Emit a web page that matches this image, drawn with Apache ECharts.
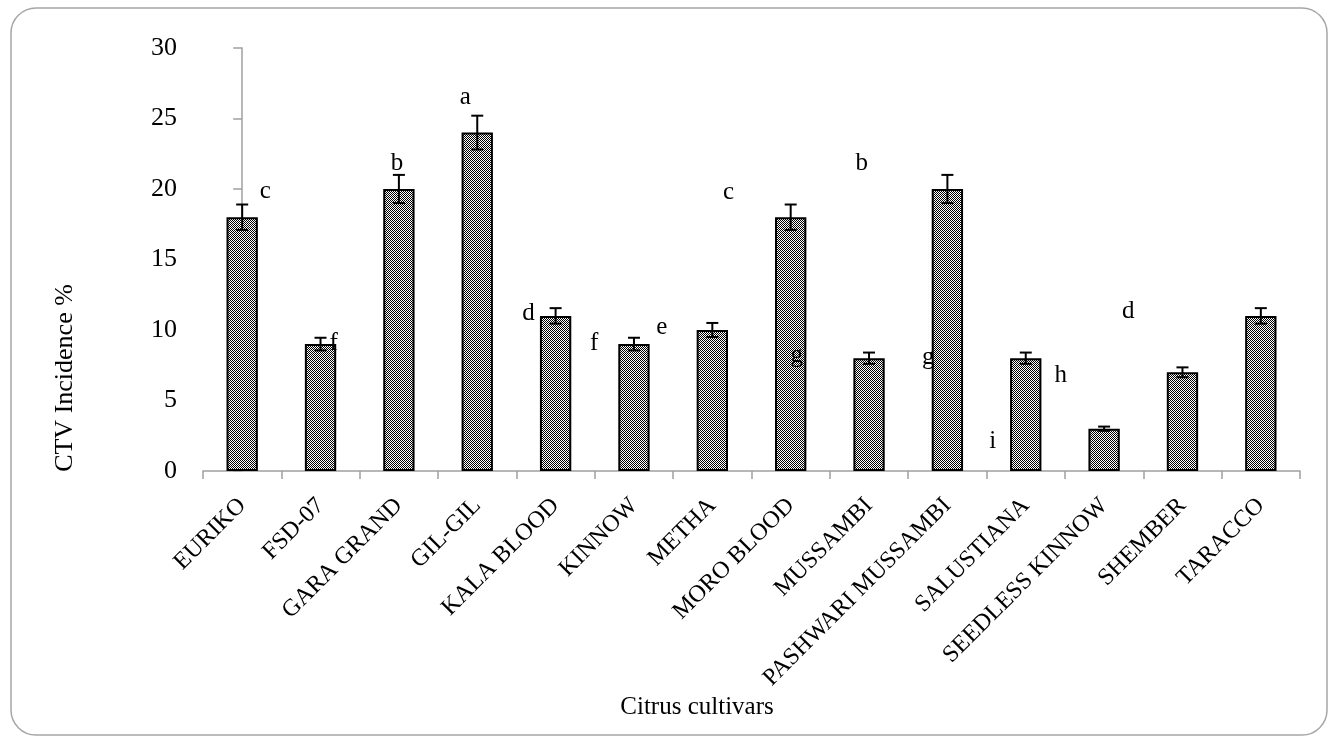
<!DOCTYPE html>
<html>
<head>
<meta charset="utf-8">
<script src="https://cdn.jsdelivr.net/npm/echarts@6/dist/echarts.min.js"></script>
<style>
html,body{margin:0;padding:0;background:#fff;}
#chart{width:1330px;height:738px;}
</style>
</head>
<body>
<div id="chart"></div>
<script>
// ---- data ----
const categories = ['EURIKO','FSD-07','GARA GRAND','GIL-GIL','KALA BLOOD','KINNOW','METHA','MORO BLOOD','MUSSAMBI','PASHWARI MUSSAMBI','SALUSTIANA','SEEDLESS KINNOW','SHEMBER','TARACCO'];
const incidence = [18, 9, 20, 24, 11, 9, 10, 18, 8, 20, 8, 3, 7, 11];
const errorBars = [0.9, 0.45, 1.0, 1.2, 0.55, 0.45, 0.5, 0.9, 0.4, 1.0, 0.4, 0.15, 0.35, 0.55];
const letters = ['c','f','b','a','d','f','e','c','g','b','g','i','h','d'];
const letterX = [0.295, 1.166, 1.975, 2.847, 3.654, 4.492, 5.356, 6.206, 7.078, 7.908, 8.757, 9.579, 10.447, 11.309];
const letterY = [19.85, 9.06, 21.84, 26.52, 11.18, 9.06, 10.15, 19.73, 8.23, 21.84, 8.02, 2.08, 6.81, 11.31];
const yTicks = [0, 5, 10, 15, 20, 25, 30];

// ---- checker pattern ----
const pc = document.createElement('canvas');
pc.width = 2; pc.height = 2;
const pctx = pc.getContext('2d');
pctx.fillStyle = '#fff'; pctx.fillRect(0,0,2,2);
pctx.fillStyle = '#000'; pctx.fillRect(0,0,1,1); pctx.fillRect(1,1,1,1);

const FONT = 'Liberation Serif';
const chart = echarts.init(document.getElementById('chart'), null, {renderer:'canvas'});

const option = {
  animation: false,
  backgroundColor: '#fff',
  grid: {left: 203, right: 30, top: 48, bottom: 267, containLabel: false},
  xAxis: [{
    type: 'category',
    data: categories,
    axisLine: {lineStyle: {color: '#a0a0a0', width: 1.5}},
    axisTick: {show: true, length: 8, lineStyle: {color: '#a0a0a0', width: 1.5}},
    axisLabel: {rotate: 45, margin: 31, color: '#000', fontFamily: FONT, fontSize: 24, interval: 0},
    splitLine: {show: false}
  }, {
    type: 'value', min: -0.5, max: 13.5, show: false
  }],
  yAxis: {
    type: 'value', min: 0, max: 30, interval: 5,
    axisLine: {show: true, lineStyle: {color: '#a0a0a0', width: 1.5}},
    axisTick: {show: true, length: 9, lineStyle: {color: '#a0a0a0', width: 1.5}},
    axisLabel: {margin: 26, color: '#000', fontFamily: FONT, fontSize: 26,
      formatter: v => yTicks.includes(v) ? String(v) : ''},
    splitLine: {show: false}
  },
  graphic: [
    {type: 'rect', shape: {x: 11, y: 8, width: 1316, height: 727, r: 25},
     style: {fill: 'none', stroke: '#a6a6a6', lineWidth: 1.5}, silent: true},
    {type: 'text', x: 65, y: 378, rotation: Math.PI/2,
     style: {text: 'CTV Incidence %', font: '26px "Liberation Serif"', fill: '#000', align: 'center', verticalAlign: 'middle'}},
    {type: 'text', x: 697, y: 707,
     style: {text: 'Citrus cultivars', font: '25px "Liberation Serif"', fill: '#000', align: 'center', verticalAlign: 'middle'}}
  ],
  series: [
    {
      type: 'bar',
      data: incidence,
      barWidth: '40%',
      itemStyle: {color: {image: pc, repeat: 'repeat'}, borderColor: '#000', borderWidth: 2},
      z: 2
    },
    {
      type: 'custom',
      data: incidence.map((v, i) => [i, v, errorBars[i]]),
      renderItem: function (params, api) {
        const x = api.value(0), v = api.value(1), e = api.value(2);
        const top = api.coord([x, v + e]);
        const bot = api.coord([x, v - e]);
        const hw = 6;
        const st = {stroke: '#000', lineWidth: 2};
        return {type: 'group', children: [
          {type: 'line', shape: {x1: top[0], y1: top[1], x2: bot[0], y2: bot[1]}, style: st},
          {type: 'line', shape: {x1: top[0]-hw, y1: top[1], x2: top[0]+hw, y2: top[1]}, style: st},
          {type: 'line', shape: {x1: bot[0]-hw, y1: bot[1], x2: bot[0]+hw, y2: bot[1]}, style: st}
        ]};
      },
      z: 3
    },
    {
      type: 'custom',
      xAxisIndex: 1,
      data: letters.map((l, i) => [letterX[i], letterY[i], l]),
      renderItem: function (params, api) {
        const p = api.coord([api.value(0), api.value(1)]);
        return {type: 'text', x: p[0], y: p[1],
          style: {text: letters[params.dataIndex], font: '25px "Liberation Serif"', fill: '#000', align: 'center', verticalAlign: 'middle'}};
      },
      z: 4
    }
  ]
};
chart.setOption(option);
</script>
</body>
</html>
